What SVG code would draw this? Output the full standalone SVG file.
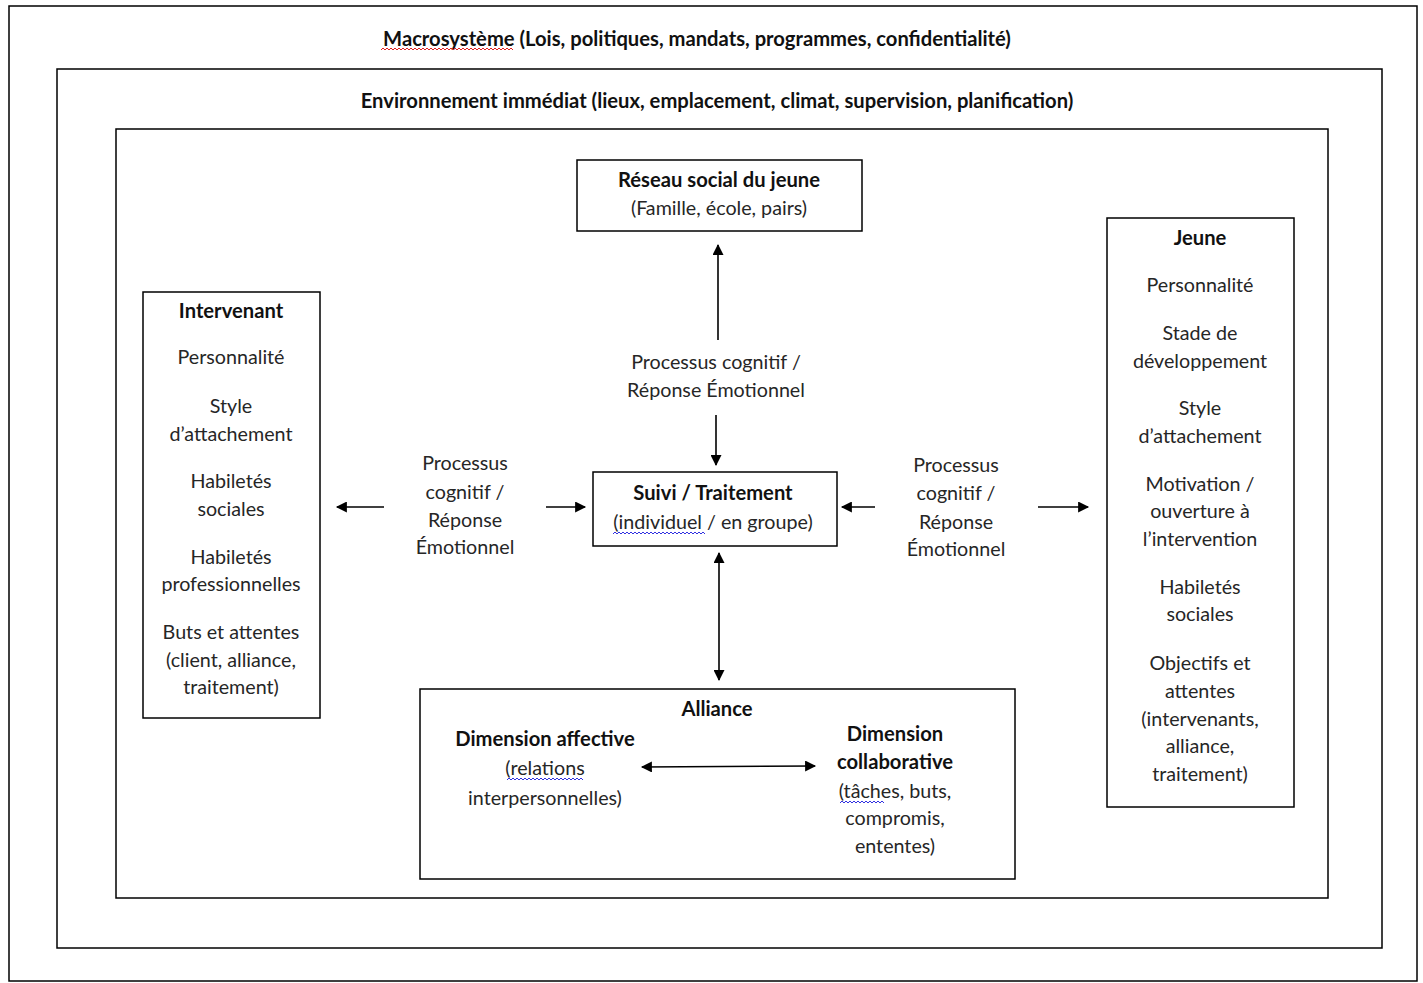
<svg xmlns="http://www.w3.org/2000/svg" width="1423" height="983" viewBox="0 0 1423 983">
<defs>
<marker id="ah" viewBox="0 0 10 10" refX="9" refY="5" markerWidth="12" markerHeight="11" markerUnits="userSpaceOnUse" orient="auto-start-reverse">
<path d="M0,0 L10,5 L0,10 z" fill="#000"/>
</marker>
<style>
.box{fill:#fff;stroke:#000;stroke-width:1.5}
text{font-family:Lato,"Open Sans","Liberation Sans",sans-serif;font-size:19.7px;fill:#262626;text-anchor:middle}
.b{font-weight:bold;fill:#111;font-size:20.2px}
.c{stroke:#000;stroke-width:1.6;fill:none}
.sq{fill:none;stroke-width:1}
</style>
</defs>
<rect width="1423" height="983" fill="#fff"/>
<g id="macrosysteme">
<rect class="box" x="9" y="6" width="1408" height="975"/>
<text class="b" x="697" y="46">Macrosystème (Lois, politiques, mandats, programmes, confidentialité)</text>
<path class="sq" stroke="#e02020" d="M381,50 l2,-2 l2,2 l2,-2 l2,2 l2,-2 l2,2 l2,-2 l2,2 l2,-2 l2,2 l2,-2 l2,2 l2,-2 l2,2 l2,-2 l2,2 l2,-2 l2,2 l2,-2 l2,2 l2,-2 l2,2 l2,-2 l2,2 l2,-2 l2,2 l2,-2 l2,2 l2,-2 l2,2 l2,-2 l2,2 l2,-2 l2,2 l2,-2 l2,2 l2,-2 l2,2 l2,-2 l2,2 l2,-2 l2,2 l2,-2 l2,2 l2,-2 l2,2 l2,-2 l2,2 l2,-2 l2,2 l2,-2 l2,2 l2,-2 l2,2 l2,-2 l2,2 l2,-2 l2,2 l2,-2 l2,2 l2,-2 l2,2 l2,-2 l2,2 l2,-2 l2,2"/>
</g>
<g id="environnement">
<rect class="box" x="57" y="69" width="1325" height="879"/>
<text class="b" x="717" y="108">Environnement immédiat (lieux, emplacement, climat, supervision, planification)</text>
</g>
<g id="cadre">
<rect class="box" x="116" y="129" width="1212" height="769"/>
</g>
<g id="reseau">
<rect class="box" x="577" y="160" width="285" height="71"/>
<text class="b" x="719" y="187">Réseau social du jeune</text>
<text x="719" y="215">(Famille, école, pairs)</text>
</g>
<g id="processus-haut">
<text x="716" y="369">Processus cognitif /</text>
<text x="716" y="397">Réponse Émotionnel</text>
</g>
<g id="suivi">
<rect class="box" x="593" y="472" width="244" height="74"/>
<text class="b" x="713" y="500">Suivi / Traitement</text>
<text x="713" y="529">(individuel / en groupe)</text>
<path class="sq" stroke="#3030e0" d="M613,534 l2,-2 l2,2 l2,-2 l2,2 l2,-2 l2,2 l2,-2 l2,2 l2,-2 l2,2 l2,-2 l2,2 l2,-2 l2,2 l2,-2 l2,2 l2,-2 l2,2 l2,-2 l2,2 l2,-2 l2,2 l2,-2 l2,2 l2,-2 l2,2 l2,-2 l2,2 l2,-2 l2,2 l2,-2 l2,2 l2,-2 l2,2 l2,-2 l2,2 l2,-2 l2,2 l2,-2 l2,2 l2,-2 l2,2 l2,-2 l2,2 l2,-2 l2,2"/>
</g>
<g id="processus-gauche">
<text x="465" y="470">Processus</text>
<text x="465" y="499">cognitif /</text>
<text x="465" y="527">Réponse</text>
<text x="465" y="554">Émotionnel</text>
</g>
<g id="processus-droite">
<text x="956" y="472">Processus</text>
<text x="956" y="500">cognitif /</text>
<text x="956" y="529">Réponse</text>
<text x="956" y="556">Émotionnel</text>
</g>
<g id="intervenant">
<rect class="box" x="143" y="292" width="177" height="426"/>
<text class="b" x="231" y="318">Intervenant</text>
<text x="231" y="364">Personnalité</text>
<text x="231" y="413">Style</text>
<text x="231" y="441">d’attachement</text>
<text x="231" y="488">Habiletés</text>
<text x="231" y="516">sociales</text>
<text x="231" y="564">Habiletés</text>
<text x="231" y="591">professionnelles</text>
<text x="231" y="639">Buts et attentes</text>
<text x="231" y="667">(client, alliance,</text>
<text x="231" y="694">traitement)</text>
</g>
<g id="jeune">
<rect class="box" x="1107" y="218" width="187" height="589"/>
<text class="b" x="1200" y="245">Jeune</text>
<text x="1200" y="292">Personnalité</text>
<text x="1200" y="340">Stade de</text>
<text x="1200" y="368">développement</text>
<text x="1200" y="415">Style</text>
<text x="1200" y="443">d’attachement</text>
<text x="1200" y="491">Motivation /</text>
<text x="1200" y="518">ouverture à</text>
<text x="1200" y="546">l’intervention</text>
<text x="1200" y="594">Habiletés</text>
<text x="1200" y="621">sociales</text>
<text x="1200" y="670">Objectifs et</text>
<text x="1200" y="698">attentes</text>
<text x="1200" y="726">(intervenants,</text>
<text x="1200" y="753">alliance,</text>
<text x="1200" y="781">traitement)</text>
</g>
<g id="alliance">
<rect class="box" x="420" y="689" width="595" height="190"/>
<text class="b" x="717" y="716">Alliance</text>
<text class="b" x="545" y="746">Dimension affective</text>
<text x="545" y="775">(relations</text>
<path class="sq" stroke="#3030e0" d="M507,780 l2,-2 l2,2 l2,-2 l2,2 l2,-2 l2,2 l2,-2 l2,2 l2,-2 l2,2 l2,-2 l2,2 l2,-2 l2,2 l2,-2 l2,2 l2,-2 l2,2 l2,-2 l2,2 l2,-2 l2,2 l2,-2 l2,2 l2,-2 l2,2 l2,-2 l2,2 l2,-2 l2,2 l2,-2 l2,2 l2,-2 l2,2 l2,-2 l2,2 l2,-2 l2,2"/>
<text x="545" y="805">interpersonnelles)</text>
<text class="b" x="895" y="741">Dimension</text>
<text class="b" x="895" y="769">collaborative</text>
<text x="895" y="798">(tâches, buts,</text>
<path class="sq" stroke="#3030e0" d="M840,803 l2,-2 l2,2 l2,-2 l2,2 l2,-2 l2,2 l2,-2 l2,2 l2,-2 l2,2 l2,-2 l2,2 l2,-2 l2,2 l2,-2 l2,2 l2,-2 l2,2 l2,-2 l2,2 l2,-2 l2,2"/>
<text x="895" y="825">compromis,</text>
<text x="895" y="853">ententes)</text>
</g>
<g id="connecteurs">
<line class="c" x1="718" y1="340" x2="718" y2="245" marker-end="url(#ah)"/>
<line class="c" x1="716" y1="415" x2="716" y2="465" marker-end="url(#ah)"/>
<line class="c" x1="719" y1="553" x2="719" y2="680" marker-start="url(#ah)" marker-end="url(#ah)"/>
<line class="c" x1="384" y1="507" x2="337" y2="507" marker-end="url(#ah)"/>
<line class="c" x1="546" y1="507" x2="585" y2="507" marker-end="url(#ah)"/>
<line class="c" x1="875" y1="507" x2="842" y2="507" marker-end="url(#ah)"/>
<line class="c" x1="1038" y1="507" x2="1088" y2="507" marker-end="url(#ah)"/>
<line class="c" x1="642" y1="767" x2="815" y2="766" marker-start="url(#ah)" marker-end="url(#ah)"/>
</g>
</svg>
